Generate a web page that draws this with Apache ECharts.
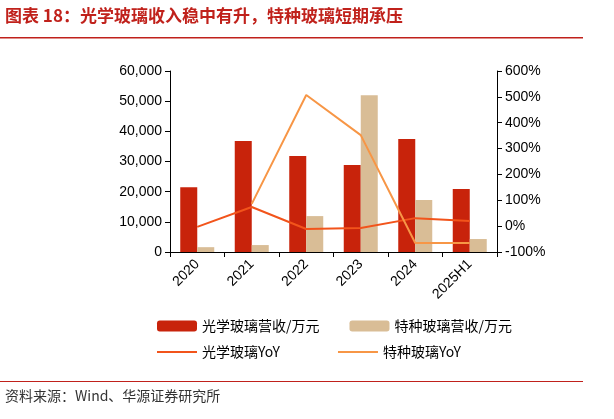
<!DOCTYPE html><html><head><meta charset="utf-8"><script src="https://cdn.jsdelivr.net/npm/echarts@6/dist/echarts.min.js"></script>
<style>body{margin:0;background:#fff}#c{width:614px;height:419px}</style></head><body><div id="c"></div><script>
const categories=['2020','2021','2022','2023','2024','2025H1'];
const optRev=[21500,36800,31800,28800,37500,20900];
const spRev=[1600,2300,11900,52000,17200,4300];
const optYoy=[-3,74,-11,-7,31,20];
const spYoy=[null,86,507,352,-65,-65];
const c=echarts.init(document.getElementById('c'));
const F='"Noto Sans CJK SC"';
c.setOption({animation:false,
graphic:[
{type:'text',left:5,top:7,style:{text:'图表 18：光学玻璃收入稳中有升，特种玻璃短期承压',fill:'#c0211b',font:'bold 17px '+F}},
{type:'rect',shape:{x:0,y:37,width:583,height:1.5},style:{fill:'#c0211b'}},
{type:'rect',shape:{x:0,y:381,width:583,height:1},style:{fill:'#c0211b'}},
{type:'text',left:5,top:389,style:{text:'资料来源：Wind、华源证券研究所',fill:'#333',font:'14px '+F}}],
grid:{left:170,right:117,top:71,bottom:167},
legend:[{top:314,left:152,itemWidth:40,itemHeight:11,itemGap:30,textStyle:{fontSize:14,color:'#000',fontFamily:F},data:['光学玻璃营收/万元','特种玻璃营收/万元']},
{top:340,left:152,itemWidth:40,itemGap:58,textStyle:{fontSize:14,color:'#000',fontFamily:F},data:['光学玻璃YoY','特种玻璃YoY'],icon:'path://M0,0H40V2H0Z'}],
xAxis:{type:'category',data:categories,axisLine:{lineStyle:{color:'#000'}},axisTick:{show:true,lineStyle:{color:'#000'}},axisLabel:{rotate:45,color:'#000',fontSize:14,margin:10}},
yAxis:[{type:'value',min:0,max:60000,interval:10000,axisLine:{show:true,lineStyle:{color:'#000'}},axisTick:{show:true},splitLine:{show:false},axisLabel:{color:'#000',fontSize:14,formatter:v=>v.toLocaleString('en-US')}},
{type:'value',min:-100,max:600,interval:100,axisLine:{show:true,lineStyle:{color:'#000'}},axisTick:{show:true},splitLine:{show:false},axisLabel:{color:'#000',fontSize:14,formatter:'{value}%'}}],
series:[
{name:'光学玻璃营收/万元',type:'bar',data:optRev,barWidth:17,barGap:'0%',itemStyle:{color:'#c8230b'}},
{name:'特种玻璃营收/万元',type:'bar',data:spRev,barWidth:17,itemStyle:{color:'#d9bd96'}},
{name:'光学玻璃YoY',type:'line',yAxisIndex:1,data:optYoy,symbol:'none',lineStyle:{color:'#f2541b',width:2},itemStyle:{color:'#f2541b'}},
{name:'特种玻璃YoY',type:'line',yAxisIndex:1,data:spYoy,symbol:'none',lineStyle:{color:'#f79646',width:2},itemStyle:{color:'#f79646'}}]});
</script></body></html>
